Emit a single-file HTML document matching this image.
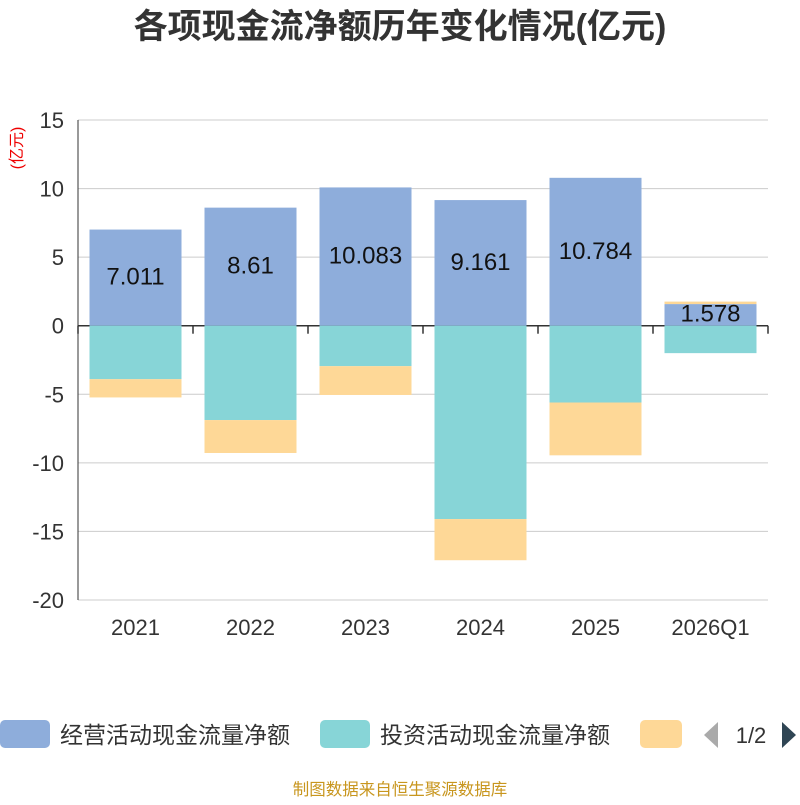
<!DOCTYPE html>
<html><head><meta charset="utf-8"><style>
body{margin:0;background:#fff;width:800px;height:800px;overflow:hidden;font-family:"Liberation Sans","Noto Sans CJK SC",sans-serif}
</style></head><body>
<svg id="chart" width="800" height="800" xmlns="http://www.w3.org/2000/svg" font-family="Liberation Sans, Noto Sans CJK SC, sans-serif">
<text x="400" y="38" text-anchor="middle" font-size="34" font-weight="bold" fill="#333">各项现金流净额历年变化情况(亿元)</text>
<text transform="translate(22,148) rotate(-90)" text-anchor="middle" font-size="16" fill="#e00">(亿元)</text>
<g id="grid"></g><g id="bars"></g><g id="axis"></g>
<g>
<rect x="0" y="720" width="50" height="28" rx="5" fill="#8eaddb"/>
<text x="60" y="743" font-size="23" fill="#333">经营活动现金流量净额</text>
<rect x="320" y="720" width="50" height="28" rx="5" fill="#87d5d7"/>
<text x="380" y="743" font-size="23" fill="#333">投资活动现金流量净额</text>
<rect x="640" y="720" width="42" height="28" rx="5" fill="#fed897"/>
<polygon points="718,722 718,748 704,735" fill="#aaa"/>
<text x="751" y="743" text-anchor="middle" font-size="22" fill="#333">1/2</text>
<polygon points="782,722 782,748 796,735" fill="#2f4554"/>
</g>
<text x="400" y="795" text-anchor="middle" font-size="16.5" fill="#c8961e">制图数据来自恒生聚源数据库</text>
</svg>
<script>
const categories=["2021","2022","2023","2024","2025","2026Q1"];
const operating=[7.011,8.61,10.083,9.161,10.784,1.578];
const investing=[-3.9,-6.88,-2.95,-14.1,-5.6,-2.0];
const financing=[-1.33,-2.4,-2.1,-3.0,-3.85,0.18];
const yTicks=[15,10,5,0,-5,-10,-15,-20];
const NS="http://www.w3.org/2000/svg";
const x0=78,x1=768,yTop=120,yBot=600,yMax=15,yMin=-20;
const y=v=>yTop+(yMax-v)/(yMax-yMin)*(yBot-yTop);
const bw=(x1-x0)/categories.length;
const xc=i=>x0+bw*(i+0.5);
function mk(tag,attrs,parent){const e=document.createElementNS(NS,tag);for(const k in attrs)e.setAttribute(k,attrs[k]);document.getElementById(parent).appendChild(e);return e;}
yTicks.forEach(t=>{
 const l=mk("line",{x1:x0,x2:x1,y1:y(t),y2:y(t),stroke:t===0?"#333":"#ccc","stroke-width":t===0?1.5:1},"grid");
 
 
 const tx=mk("text",{x:x0-14,y:y(t)+8,"text-anchor":"end","font-size":22,fill:"#333"},"axis");tx.textContent=t;
 
 
});
const ya=mk("line",{x1:x0,x2:x0,y1:yTop,y2:yBot,stroke:"#333"},"axis");


const series=[[operating,"#8eaddb","operating"],[investing,"#87d5d7","investing"],[financing,"#fed897","financing"]];
categories.forEach((c,i)=>{
 let pos=0,neg=0;
 series.forEach(([arr,col,nm])=>{
  const v=arr[i];let a,b;
  if(v>=0){a=pos;b=pos+v;pos=b;}else{a=neg;b=neg+v;neg=b;}
  const r=mk("rect",{x:xc(i)-46,width:92,y:Math.min(y(a),y(b)),height:Math.abs(y(a)-y(b)),fill:col},"bars");
  
  
 });
 const lb=mk("text",{x:xc(i),y:y(operating[i]/2)+7,"text-anchor":"middle","font-size":24,fill:"#111"},"bars");
 if(operating[i]<3) lb.setAttribute("y",y(0)-4);
 lb.textContent=operating[i];
 
 
 const xt=mk("text",{x:xc(i),y:635,"text-anchor":"middle","font-size":22,fill:"#333"},"axis");xt.textContent=c;
 
 
});
for(let i=0;i<=categories.length;i++){
 const tk=mk("line",{x1:x0+bw*i,x2:x0+bw*i,y1:y(0),y2:y(0)+8,stroke:"#333","stroke-width":1.5},"axis");
 
 
}
</script>
</body></html>
